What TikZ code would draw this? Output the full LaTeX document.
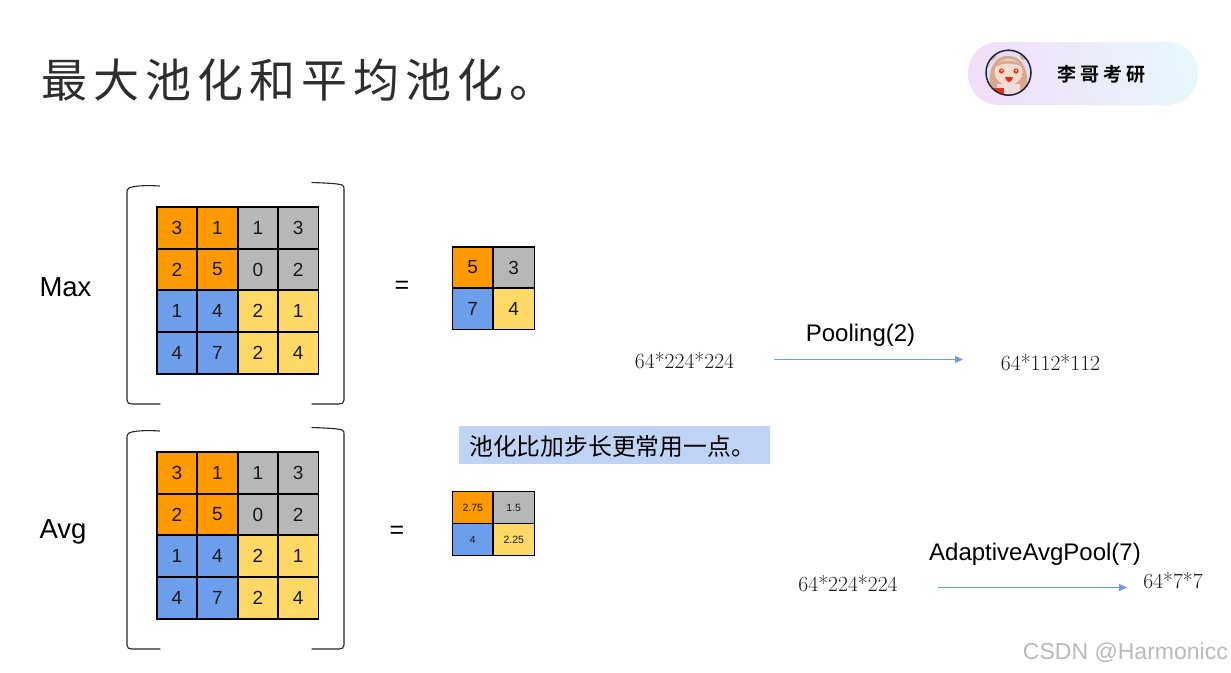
\documentclass[tikz,border=0pt]{standalone}
\usepackage{fontspec}
\setmainfont{Liberation Sans}
\newfontfamily\cjk{Noto Sans CJK SC}
\newfontfamily\cjktitle[LetterSpace=13]{Noto Sans CJK SC}
\newfontfamily\cjkbrand[LetterSpace=20,BoldFont={Noto Sans CJK SC Bold}]{Noto Sans CJK SC}
\newfontfamily\lmr{Latin Modern Roman}
\definecolor{cOrange}{HTML}{FF9900}
\definecolor{cGray}{HTML}{B7B7B7}
\definecolor{cBlue}{HTML}{6D9EEB}
\definecolor{cYellow}{HTML}{FFD966}
\definecolor{cNote}{HTML}{BFD4F4}
\definecolor{cPillL}{HTML}{F0DFF6}
\definecolor{cPillR}{HTML}{E8F6FD}
\definecolor{cArrow}{HTML}{6D9EEB}
\definecolor{cHair}{HTML}{D9A98C}
\definecolor{cSkin}{HTML}{F6DCCF}
\definecolor{cAva}{HTML}{E3DDF3}
\definecolor{cRing}{HTML}{22223F}
\usetikzlibrary{arrows.meta}
\newcommand{\fs}[1]{\fontsize{#1}{#1}\selectfont}
\newcommand{\cellbox}[8]{% name x0 y0 x1 y1 fill text size
  \path[fill=#6] (#2,#3) rectangle (#4,#5);
  \draw[cellline] (#2,#3) rectangle (#4,#5);
  \node[cellnum] (#1) at ({(#2+#4)/2},{(#3+#5)/2}) {\fs{#8}#7};
}
\newcommand{\bigmatrix}[2]{% prefix, y offset
  \begin{scope}[yshift=-#2pt]
    \draw[bracket] (159.5,186) .. controls (145,185) and (133,186) .. (129,188) .. controls (127.5,189) and (127,190) .. (127,192) -- (127,400) .. controls (127,403) and (129,404) .. (132,404) -- (160,404);
    \draw[bracket] (312,182.5) .. controls (325,183) and (338,183.5) .. (342,185) .. controls (344,186) and (344,187) .. (344,189) -- (344,400) .. controls (344,403) and (342,404) .. (339,404) -- (312,404);
    \cellbox{#1a}{157}{207}{197}{249}{cOrange}{3}{19}
    \cellbox{#1b}{197}{207}{238}{249}{cOrange}{1}{19}
    \cellbox{#1c}{238}{207}{278}{249}{cGray}{1}{19}
    \cellbox{#1d}{278}{207}{318.5}{249}{cGray}{3}{19}
    \cellbox{#1e}{157}{249}{197}{290}{cOrange}{2}{19}
    \cellbox{#1f}{197}{249}{238}{290}{cOrange}{5}{19}
    \cellbox{#1g}{238}{249}{278}{290}{cGray}{0}{19}
    \cellbox{#1h}{278}{249}{318.5}{290}{cGray}{2}{19}
    \cellbox{#1i}{157}{290}{197}{332}{cBlue}{1}{19}
    \cellbox{#1j}{197}{290}{238}{332}{cBlue}{4}{19}
    \cellbox{#1k}{238}{290}{278}{332}{cYellow}{2}{19}
    \cellbox{#1l}{278}{290}{318.5}{332}{cYellow}{1}{19}
    \cellbox{#1m}{157}{332}{197}{374}{cBlue}{4}{19}
    \cellbox{#1n}{197}{332}{238}{374}{cBlue}{7}{19}
    \cellbox{#1o}{238}{332}{278}{374}{cYellow}{2}{19}
    \cellbox{#1p}{278}{332}{318.5}{374}{cYellow}{4}{19}
    \draw[sepline] (238,207) -- (238,374);
    \draw[sepline] (157,332) -- (318.5,332);
  \end{scope}
}
\tikzset{
  x=1pt,y=-1pt,
  cellline/.style={draw=black,line width=1.1pt},
  sepline/.style={draw=black,line width=1.7pt},
  bracket/.style={draw=black!85,line width=1.1pt,line cap=round},
  cellnum/.style={inner sep=0pt,text=black!90},
  label/.style={inner sep=0pt,text=black},
  dims/.style={inner sep=0pt,text=black!90,font=\lmr\fs{21.6}},
  flow/.style={draw=cArrow,line width=0.9pt,-{Stealth[length=8pt,width=7pt,inset=0pt]}},
}
\begin{document}
\begin{tikzpicture}
\useasboundingbox[fill=white] (0,0) rectangle (1231,672);
% title
\node[label,anchor=west,text=black!82] (title) at (41,80) {\cjktitle\fs{46}最大池化和平均池化。};
% brand pill
\shade[left color=cPillL,right color=cPillR,shading angle=105,rounded corners=31pt] (968,42) rectangle (1198,105);
\begin{scope}
  \clip (1008.5,72.7) circle (22);
  \fill[cAva] (985,50) rectangle (1032,96);
  \fill[cHair] (992,56) circle (4);
  \fill[cHair] (1024,56) circle (4);
  \fill[cHair] (990,92) .. controls (988,72) and (992,56) .. (1008,56) .. controls (1024,56) and (1029,72) .. (1027,92) -- cycle;
  \fill[cSkin] (1008.5,72) ellipse (14 and 13);
  \fill[cHair] (994,68) .. controls (998,58) and (1018,58) .. (1023,68) .. controls (1016,62) and (1001,62) .. (994,68) -- cycle;
  \fill[cSkin!70!cAva] (997,84) rectangle (1020,96);
  \fill[red!60!brown] (994,88) rectangle (1004,96);
  \fill[red!60!brown] (1001.5,71) circle (2.6);
  \fill[red!60!brown] (1016,71) circle (2.6);
  \fill[white] (1001.5,70.5) circle (1);
  \fill[white] (1016,70.5) circle (1);
  \fill[red!65!brown] (1005,77) .. controls (1007,84) and (1011,84) .. (1013,77) -- cycle;
\end{scope}
\draw[cRing,line width=1.5pt] (1008.5,72.7) circle (22.5);
\node[label] (brand) at (1101.5,74) {\cjkbrand\fs{19}\bfseries 李哥考研};
% row labels
\node[label] (maxlabel) at (65.5,287) {\fs{27.5}Max};
\node[label] (avglabel) at (63,532) {\fs{27.5}Avg};
% matrices
\bigmatrix{m}{0}
\bigmatrix{n}{245}
\node[label] (eqa) at (402,287) {\fs{25}=};
\node[label] (eqb) at (397,532) {\fs{25}=};
% max result
\cellbox{ra}{452.5}{247}{493}{288}{cOrange}{5}{19}
\cellbox{rb}{493}{247}{534.5}{288}{cGray}{3}{19}
\cellbox{rc}{452.5}{288}{493}{329.5}{cBlue}{7}{19}
\cellbox{rd}{493}{288}{534.5}{329.5}{cYellow}{4}{19}
% avg result
\cellbox{sa}{452.5}{491.5}{493}{523.5}{cOrange}{2.75}{10.5}
\cellbox{sb}{493}{491.5}{534.5}{523.5}{cGray}{1.5}{10.5}
\cellbox{sc}{452.5}{523.5}{493}{555.5}{cBlue}{4}{10.5}
\cellbox{sd}{493}{523.5}{534.5}{555.5}{cYellow}{2.25}{10.5}
% note
\fill[cNote] (459,426) rectangle (770,464);
\node[label,anchor=west] (note) at (469,446) {\cjk\fs{23.8}池化比加步长更常用一点。};
% flows
\node[dims] (pa) at (684.5,360.5) {64*224*224};
\node[dims] (pb) at (1050.5,362.5) {64*112*112};
\node[label] (pl) at (860.5,335) {\fs{24}Pooling(2)};
\coordinate (pas) at (774,359.5);
\coordinate (pbe) at (963,359.5);
\draw[flow] (pas) -- (pbe);
\node[dims] (qa) at (848,583.5) {64*224*224};
\node[dims] (qb) at (1173,580.5) {64*7*7};
\node[label] (ql) at (1035,554) {\fs{24}AdaptiveAvgPool(7)};
\coordinate (qas) at (938,587.5);
\coordinate (qbe) at (1127,587.5);
\draw[flow] (qas) -- (qbe);
% watermark
\node[label,anchor=east,text=black!27] (wm) at (1228,653) {\fs{23}CSDN @Harmonicc};
\end{tikzpicture}
\end{document}
